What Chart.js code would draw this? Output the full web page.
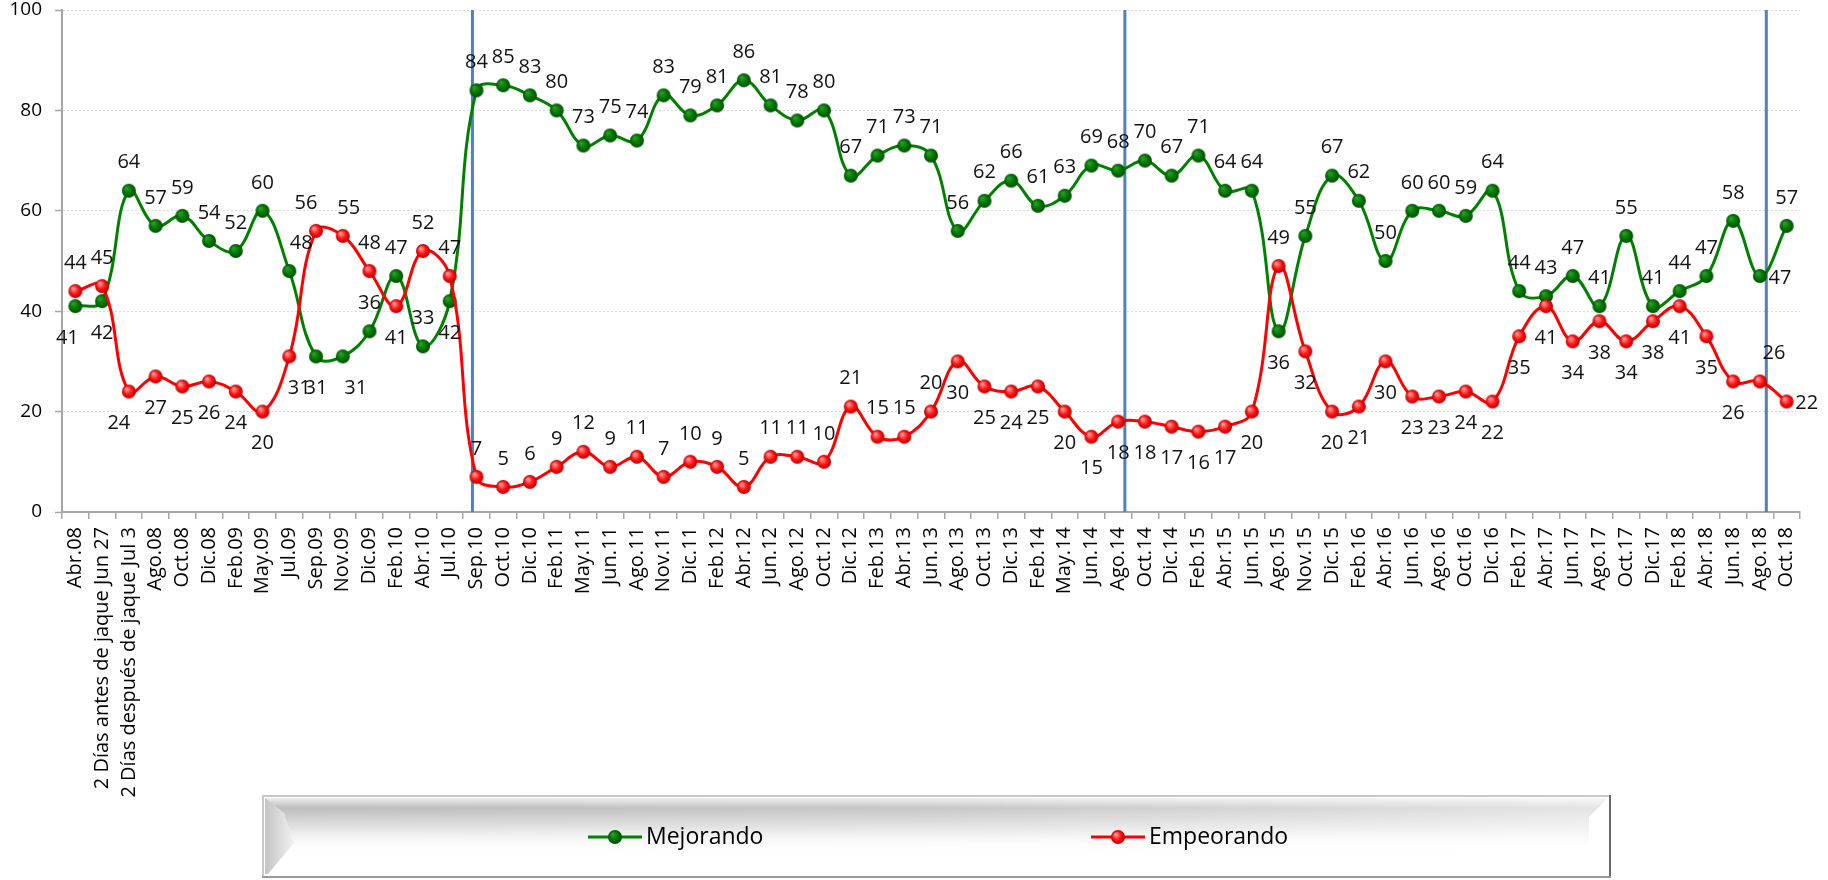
<!DOCTYPE html>
<html>
<head>
<meta charset="utf-8">
<script src="https://cdn.jsdelivr.net/npm/chart.js@4/dist/chart.umd.min.js"></script>
<style>
html,body{margin:0;padding:0;background:#ffffff;}
#wrap{width:1828px;height:880px;position:relative;overflow:hidden;}
</style>
</head>
<body>
<div id="wrap"><canvas id="c" width="1828" height="880"></canvas></div>
<script>
// ---------- DATA ----------
const categories = ['Abr.08','2 Días antes de jaque Jun 27','2 Días después de jaque Jul 3','Ago.08','Oct.08','Dic.08','Feb.09','May.09','Jul.09','Sep.09','Nov.09','Dic.09','Feb.10','Abr.10','Jul.10','Sep.10','Oct.10','Dic.10','Feb.11','May.11','Jun.11','Ago.11','Nov.11','Dic.11','Feb.12','Abr.12','Jun.12','Ago.12','Oct.12','Dic.12','Feb.13','Abr.13','Jun.13','Ago.13','Oct.13','Dic.13','Feb.14','May.14','Jun.14','Ago.14','Oct.14','Dic.14','Feb.15','Abr.15','Jun.15','Ago.15','Nov.15','Dic.15','Feb.16','Abr.16','Jun.16','Ago.16','Oct.16','Dic.16','Feb.17','Abr.17','Jun.17','Ago.17','Oct.17','Dic.17','Feb.18','Abr.18','Jun.18','Ago.18','Oct.18'];

const mejorando = [41,42,64,57,59,54,52,60,48,31,31,36,47,33,42,84,85,83,80,73,75,74,83,79,81,86,81,78,80,67,71,73,71,56,62,66,61,63,69,68,70,67,71,64,64,36,55,67,62,50,60,60,59,64,44,43,47,41,55,41,44,47,58,47,57];

const empeorando = [44,45,24,27,25,26,24,20,31,56,55,48,41,52,47,7,5,6,9,12,9,11,7,10,9,5,11,11,10,21,15,15,20,30,25,24,25,20,15,18,18,17,16,17,20,49,32,20,21,30,23,23,24,22,35,41,34,38,34,38,41,35,26,26,22];

const yTicks = [0,20,40,60,80,100];
const seriesNames = ['Mejorando','Empeorando'];
const separatorCategories = ['Sep.10','Ago.14','Ago.18'];

// ---------- STYLE ----------
const FONT = '"Open Sans", "DejaVu Sans", sans-serif';
Chart.defaults.font.family = FONT;
Chart.defaults.color = '#000';

function ball(light, base, dark, r){
  const s = 2*r+2;
  const c = document.createElement('canvas');
  c.width = s; c.height = s;
  const x = c.getContext('2d');
  const g = x.createRadialGradient(s/2 - r*0.35, s/2 - r*0.4, r*0.1, s/2, s/2, r);
  g.addColorStop(0, light);
  g.addColorStop(0.55, base);
  g.addColorStop(1, dark);
  x.fillStyle = g;
  x.beginPath(); x.arc(s/2, s/2, r, 0, Math.PI*2); x.fill();
  return c;
}
const greenBall = ball('#2e9a2e', '#007800', '#004c00', 7);
const redBall = ball('#ff9a9a', '#ff1414', '#b80000', 7);

// label placement: a = above, b = below, r = right
const labelPlacement = [
  'bbaaaaaaabbaaab' + 'a'.repeat(30) + 'b' + 'a'.repeat(17) + 'r' + 'a',
  'aabbbbbbbaaabaa' + 'a'.repeat(18) + 'b'.repeat(12) + 'a' + 'b'.repeat(17) + 'a' + 'r'
];
const labelNudge = [
  {0:-8, 8:12, 10:13},
  {2:-10, 8:10, 9:-10, 10:6, 63:14}
];
const separatorShift = [-0.15, 0.25, 0.24];

const extras = {
  id: 'extras',
  beforeDatasetsDraw(chart){
    const ctx = chart.ctx, xs = chart.scales.x, area = chart.chartArea;
    ctx.save();
    ctx.strokeStyle = '#4f81bd';
    ctx.lineWidth = 3;
    separatorCategories.forEach((cat, i) => {
      const idx = categories.indexOf(cat) + separatorShift[i];
      const px = xs.getPixelForValue(idx);
      ctx.beginPath();
      ctx.moveTo(px, area.top);
      ctx.lineTo(px, area.bottom);
      ctx.stroke();
    });
    ctx.restore();
  },
  afterDatasetsDraw(chart){
    const ctx = chart.ctx;
    ctx.save();
    ctx.font = '20px ' + FONT;
    ctx.fillStyle = '#111';
    ctx.textAlign = 'center';
    ctx.textBaseline = 'middle';
    chart.data.datasets.forEach((ds, i) => {
      const meta = chart.getDatasetMeta(i);
      meta.data.forEach((pt, j) => {
        const p = labelPlacement[i][j];
        let x = pt.x, y = pt.y;
        if (p === 'a') y -= 28;
        else if (p === 'b') y += 32;
        else { x += 20; y += 2; }
        x += (labelNudge[i][j] || 0);
        ctx.fillText(String(Math.round(ds.data[j])), x, y);
      });
    });
    ctx.restore();
  },
  afterDraw(chart){
    const ctx = chart.ctx;
    const bx = 262, by = 795, bw = 1349, bh = 83;
    ctx.save();
    ctx.fillStyle = '#ffffff';
    ctx.fillRect(bx, by, bw, bh);
    let g = ctx.createLinearGradient(0, by + 3, 0, by + 58);
    g.addColorStop(0, '#ececec');
    g.addColorStop(0.18, '#bdbdbd');
    g.addColorStop(0.55, '#e2e2e2');
    g.addColorStop(1, 'rgba(255,255,255,0)');
    ctx.fillStyle = g;
    ctx.beginPath();
    ctx.moveTo(bx + 3, by + 3);
    ctx.lineTo(bx + bw - 3, by + 3);
    ctx.lineTo(bx + bw - 22, by + 22);
    ctx.lineTo(bx + bw - 22, by + 60);
    ctx.lineTo(bx + 3, by + 60);
    ctx.closePath();
    ctx.fill();
    g = ctx.createLinearGradient(bx, 0, bx + bw, 0);
    g.addColorStop(0, 'rgba(255,255,255,0)');
    g.addColorStop(0.5, 'rgba(255,255,255,0.15)');
    g.addColorStop(1, 'rgba(255,255,255,0.6)');
    ctx.fillStyle = g;
    ctx.fillRect(bx + 3, by + 3, bw - 6, 58);
    g = ctx.createLinearGradient(bx + 3, 0, bx + 34, 0);
    g.addColorStop(0, '#c4c4c4');
    g.addColorStop(1, '#f4f4f4');
    ctx.fillStyle = g;
    ctx.beginPath();
    ctx.moveTo(bx + 3, by + 3);
    ctx.lineTo(bx + 22, by + 18);
    ctx.lineTo(bx + 32, by + 48);
    ctx.lineTo(bx + 6, by + bh - 4);
    ctx.lineTo(bx + 3, by + bh - 4);
    ctx.closePath();
    ctx.fill();
    ctx.lineWidth = 2;
    ctx.strokeStyle = '#c8c8c8';
    ctx.beginPath();
    ctx.moveTo(bx + 1, by + bh); ctx.lineTo(bx + 1, by + 1); ctx.lineTo(bx + bw, by + 1);
    ctx.stroke();
    ctx.strokeStyle = '#6a6a6a';
    ctx.beginPath();
    ctx.moveTo(bx + bw - 1, by); ctx.lineTo(bx + bw - 1, by + bh);
    ctx.stroke();
    ctx.strokeStyle = '#9a9a9a';
    ctx.beginPath();
    ctx.moveTo(bx, by + bh - 1); ctx.lineTo(bx + bw, by + bh - 1);
    ctx.stroke();
    const items = [
      {x: 615, color: '#008000', img: greenBall},
      {x: 1118, color: '#ff0000', img: redBall}
    ];
    const ly = 837;
    ctx.font = '23px ' + FONT;
    ctx.textAlign = 'left';
    ctx.textBaseline = 'middle';
    items.forEach((it, i) => {
      ctx.strokeStyle = it.color;
      ctx.lineWidth = 3;
      ctx.beginPath();
      ctx.moveTo(it.x - 27, ly); ctx.lineTo(it.x + 27, ly);
      ctx.stroke();
      ctx.drawImage(it.img, it.x - it.img.width/2, ly - it.img.height/2);
      ctx.fillStyle = '#000';
      ctx.fillText(seriesNames[i], it.x + 31, ly);
    });
    ctx.restore();
  }
};

new Chart(document.getElementById('c'), {
  type: 'line',
  data: {
    labels: categories,
    datasets: [
      {
        label: seriesNames[0],
        data: mejorando,
        borderColor: '#008000',
        backgroundColor: '#008000',
        borderWidth: 3,
        tension: 0.4,
        pointStyle: greenBall,
        pointRadius: 7,
        fill: false,
        order: 1
      },
      {
        label: seriesNames[1],
        data: empeorando,
        borderColor: '#ff0000',
        backgroundColor: '#ff0000',
        borderWidth: 3,
        tension: 0.4,
        pointStyle: redBall,
        pointRadius: 7,
        fill: false,
        order: 0
      }
    ]
  },
  options: {
    responsive: false,
    animation: false,
    devicePixelRatio: 1,
    layout: { padding: { left: 0, right: 28, top: 10, bottom: 0 } },
    plugins: {
      legend: { display: false },
      tooltip: { enabled: false }
    },
    scales: {
      x: {
        offset: true,
        grid: {
          offset: true,
          drawOnChartArea: false,
          drawTicks: true,
          tickLength: 7,
          color: '#a6a6a6',
          lineWidth: 1.5
        },
        border: { color: '#a6a6a6', width: 2 },
        ticks: {
          autoSkip: false,
          maxRotation: 90,
          minRotation: 90,
          padding: 8,
          font: { size: 20 },
          color: '#000'
        },
        afterFit(scale){ scale.height = 368; }
      },
      y: {
        min: 0,
        max: 100,
        afterBuildTicks(scale){ scale.ticks = yTicks.map(v => ({value: v})); },
        grid: {
          color: '#dcdcdc',
          lineWidth: 1,
          tickColor: '#a6a6a6',
          tickLength: 7,
          tickWidth: 1.5
        },
        border: { color: '#a6a6a6', width: 2, dash: [2, 2] },
        ticks: {
          padding: 13,
          font: { size: 19, lineHeight: 1 },
          color: '#000'
        },
        afterFit(scale){
          scale.width = 62;
          scale.paddingTop = 10;
          scale.paddingBottom = 10;
        }
      }
    }
  },
  plugins: [extras]
});
</script>
</body>
</html>
